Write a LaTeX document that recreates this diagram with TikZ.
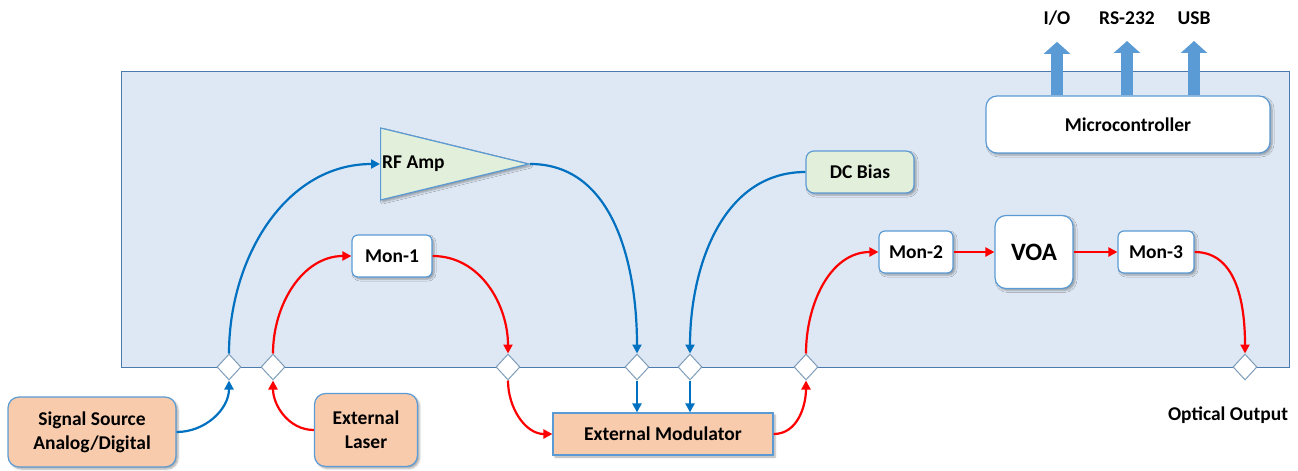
\documentclass[tikz,border=0pt]{standalone}
\usepackage{fontspec}
\setmainfont{Carlito}
\usetikzlibrary{arrows.meta,shapes.geometric,shadows.blur}
\definecolor{panelfill}{HTML}{DEE8F4}
\definecolor{panelline}{HTML}{4A7AB0}
\definecolor{boxline}{HTML}{5B9BD5}
\definecolor{portline}{HTML}{7E9CB8}
\definecolor{srcfill}{HTML}{F8CBAD}
\definecolor{ampfill}{HTML}{E2EFDA}
\definecolor{sigblue}{HTML}{0070C0}
\definecolor{optred}{HTML}{FF0000}
\tikzset{
	shade/.style={blur shadow={shadow xshift=2pt, shadow yshift=-2pt, shadow blur radius=2pt, shadow opacity=35}}
}
\begin{document}
\begin{tikzpicture}[x=1pt, y=1pt, font=\fontsize{19.5}{24}\selectfont\bfseries,
  box/.style = {draw=boxline, line width=1.2pt, fill=white, rounded corners=6pt, shade, align=center, inner sep=2pt},
  bigbox/.style = {box, rounded corners=11pt},
  ext/.style = {bigbox, fill=srcfill},
  port/.style = {draw=portline, line width=1pt, fill=white, diamond, minimum width=24, minimum height=26, inner sep=0},
  sig/.style = {draw=sigblue, line width=2.2pt, -{Triangle[length=9pt,width=9pt]}},
  opt/.style = {draw=optred, line width=2.2pt, -{Triangle[length=9pt,width=9pt]}},
  fat/.style = {draw=boxline, line width=12pt, -{Triangle[length=12pt,width=26pt]}}]

    \useasboundingbox (0,0) rectangle (1298,-471);
    \draw[panelline, fill=panelfill, line width=1pt] (121,-71) rectangle (1289,-367);

    \node[bigbox, minimum width=284, minimum height=57](mc) at (1128,-124.5) {Microcontroller};
    \node(io) at (1057,-18) {I/O};
    \node(rs) at (1127,-18) {RS-232};
    \node(usb) at (1194,-18) {USB};

    \node[draw=boxline, line width=1.2pt, fill=ampfill, isosceles triangle, isosceles triangle stretches,
          minimum width=72, minimum height=148, inner sep=0, shade, anchor=lower side](amp) at (380,-164) {};
    \node[anchor=west, inner sep=2pt](amptxt) at (amp.lower side) {RF Amp};
    \node[box, fill=ampfill, rounded corners=8pt, minimum width=108, minimum height=42](dc) at (860,-172) {DC Bias};

    \node[box, minimum width=80, minimum height=42](mon1) at (392,-256) {Mon-1};
    \node[box, minimum width=74, minimum height=42](mon2) at (916,-252) {Mon-2};
    \node[bigbox, minimum width=78, minimum height=73, font=\fontsize{25}{28}\selectfont\bfseries](voa) at (1034,-252) {VOA};
    \node[box, minimum width=76, minimum height=42](mon3) at (1156,-252) {Mon-3};

    \node[port](pa) at (229,-367) {};
    \node[port](pb) at (273,-367) {};
    \node[port](pc) at (508,-367) {};
    \node[port](pd) at (637,-367) {};
    \node[port](pe) at (690,-367) {};
    \node[port](pf) at (806,-367) {};
    \node[port](pg) at (1245,-367) {};

    \node[ext, minimum width=168, minimum height=70](src) at (92,-432) {Signal Source\\Analog/Digital};
    \node[ext, minimum width=103, minimum height=73](laser) at (366,-430) {External\\Laser};
    \node[box, fill=srcfill, rounded corners=0pt, minimum width=220, minimum height=42](mod) at (663,-434) {External Modulator};
    \node(out) at (1228,-415) {Optical Output};

    \foreach \lbl in {io,rs,usb}
        \draw[fat] (mc.north -| \lbl) -- ([yshift=-13pt]\lbl.south);

    \draw[sig] (src.east) to[out=0, in=-90] (pa.south);
    \draw[sig] (pa.north) to[out=90, in=180] (amp.lower side);
    \draw[sig] (amp.apex) to[out=0, in=90] (pd.north);
    \draw[sig] (pd.south) -- (pd |- mod.north);
    \draw[sig] (dc.west) to[out=180, in=90] (pe.north);
    \draw[sig] (pe.south) -- (pe |- mod.north);

    \draw[opt] (laser.west) to[out=180, in=-90] (pb.south);
    \draw[opt] (pb.north) to[out=90, in=180] (mon1.west);
    \draw[opt] (mon1.east) to[out=0, in=90] (pc.north);
    \draw[opt] (pc.south) to[out=-90, in=180] (mod.west);
    \draw[opt] (mod.east) to[out=0, in=-90] (pf.south);
    \draw[opt] (pf.north) to[out=90, in=180] (mon2.west);
    \draw[opt] (mon2) -- (voa);
    \draw[opt] (voa) -- (mon3);
    \draw[opt] (mon3.east) to[out=0, in=90] (pg.north);

\end{tikzpicture}
\end{document}
